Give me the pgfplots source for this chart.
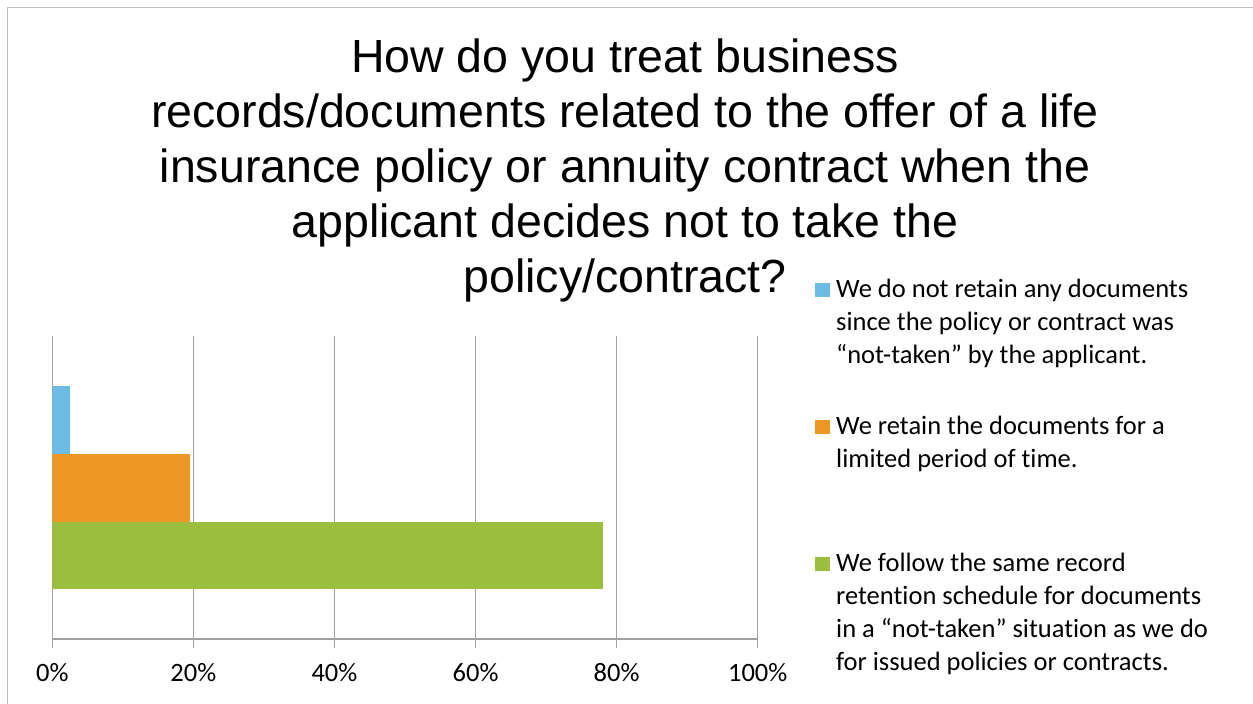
\documentclass[border=0pt]{standalone}
\usepackage{fontspec}
\setmainfont{Carlito}[Ligatures=NoCommon]
\newfontfamily\titlefont{Liberation Sans}
\usepackage{pgfplots}
\pgfplotsset{compat=1.18}

\definecolor{barblue}{RGB}{109,188,229}
\definecolor{barorange}{RGB}{237,151,36}
\definecolor{bargreen}{RGB}{156,190,62}
\definecolor{gridgray}{RGB}{162,162,162}
\definecolor{framegray}{RGB}{190,190,190}

\begin{document}
\begin{tikzpicture}
\path[use as bounding box] (0,0) rectangle (1253bp,704bp);
% chart frame (only left and top edges are visible)
\draw[framegray, line width=1.5bp] (7.3bp,0) -- (7.3bp,696.7bp) -- (1253bp,696.7bp);

\node[font=\titlefont\fontsize{46.5bp}{55bp}\selectfont, align=center, anchor=north, inner sep=0pt]
  at (625bp,665.3bp) {How do you treat business\\records/documents related to the offer of a life\\insurance policy or annuity contract when the\\applicant decides not to take the\\policy/contract?};

\begin{axis}[
  at={(52.3bp,64.7bp)}, anchor=south west,
  scale only axis, width=705.4bp, height=303.3bp,
  xbar, bar width=1, bar shift=0pt,
  xmin=0, xmax=100, ymin=-2.2375, ymax=2.2375,
  axis x line*=bottom, axis y line=none,
  axis line style={-, draw=gridgray, line width=2bp},
  xtick={0,20,...,100}, ytick=\empty,
  tick align=outside, major tick length=9bp,
  xtick style={draw=gridgray, line width=1.3bp},
  xmajorgrids, major grid style={draw=gridgray, line width=1.3bp},
  /pgf/number format/assume math mode=true,
  xticklabel={\pgfmathprintnumber{\tick}\%},
  xticklabel style={font=\fontsize{26.5bp}{32bp}\selectfont, anchor=north, inner sep=0pt, yshift=-14.7bp},
  legend style={at={(1.0812,1.1946)}, anchor=north west, draw=none, fill=none,
    inner sep=0pt, row sep=117bp, column sep=6bp,
    font=\fontsize{26.5bp}{33bp}\selectfont,
    nodes={inner sep=0pt, text height=20bp, text depth=0bp}, cells={anchor=base west}},
  legend image code/.code={\fill[#1,draw=none] (0bp,0bp) rectangle (15bp,14bp);},
]
\addplot[fill=barblue, draw=none] coordinates {(2.5,1)};
\addlegendentry{\parbox[t]{400bp}{We do not retain any documents\\since the policy or contract was\\“not-taken” by the applicant.}}
\addplot[fill=barorange, draw=none] coordinates {(19.5,0)};
\addlegendentry{\parbox[t]{400bp}{We retain the documents for a\\limited period of time.}}
\addplot[fill=bargreen, draw=none] coordinates {(78.1,-1)};
\addlegendentry{\parbox[t]{400bp}{We follow the same record\\retention schedule for documents\\in a “not-taken” situation as we do\\for issued policies or contracts.}}
\end{axis}
\end{tikzpicture}
\end{document}
